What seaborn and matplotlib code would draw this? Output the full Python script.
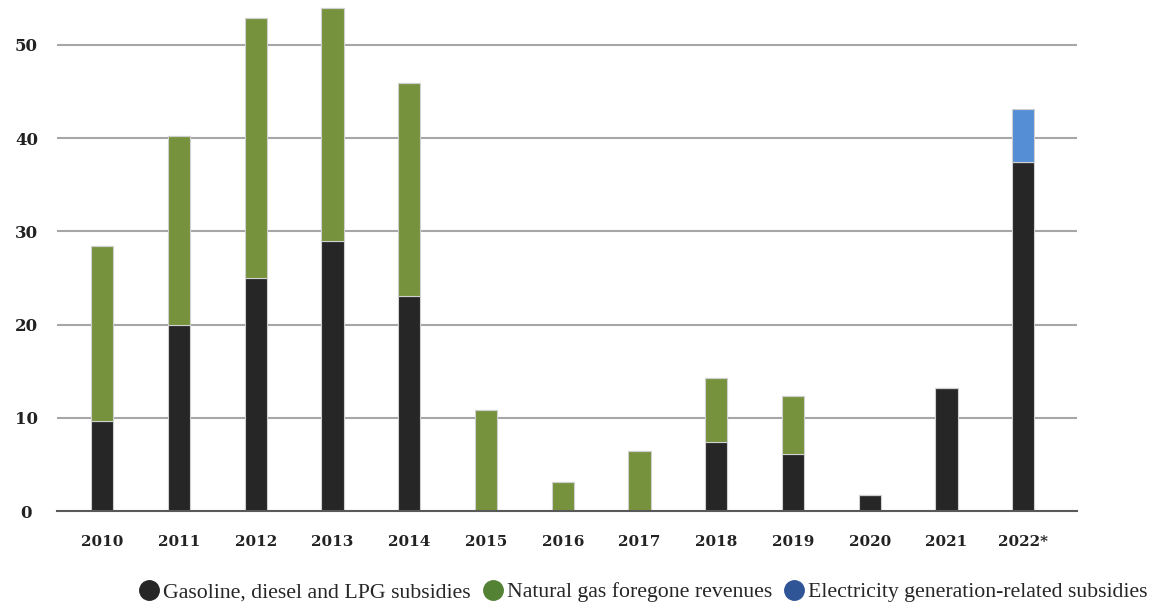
import matplotlib
matplotlib.use("Agg")
import matplotlib.pyplot as plt
from matplotlib.lines import Line2D
import seaborn as sns
import pandas as pd

years = ["2010", "2011", "2012", "2013", "2014", "2015", "2016",
         "2017", "2018", "2019", "2020", "2021", "2022*"]
gasoline = [9.7, 20.0, 25.0, 29.0, 23.1, 0, 0, 0, 7.4, 6.1, 1.7, 13.2, 37.4]
natgas = [18.7, 20.2, 27.9, 24.9, 22.8, 10.8, 3.1, 6.4, 6.9, 6.2, 0, 0, 0]
electricity = [0, 0, 0, 0, 0, 0, 0, 0, 0, 0, 0, 0, 5.7]
series_names = ["Gasoline, diesel and LPG subsidies",
                "Natural gas foregone revenues",
                "Electricity generation-related subsidies"]
yticks = [0, 10, 20, 30, 40, 50]

bar_colors = ["#262626", "#76923c", "#558ed5"]
legend_colors = ["#262626", "#548235", "#2f5597"]

sns.set_theme(style="white")
plt.rcParams["font.family"] = ["Liberation Serif", "DejaVu Serif"]

fig = plt.figure(figsize=(11.56, 6.04), dpi=100)
ax = fig.add_axes([57 / 1156, 93 / 604, (1077 - 57) / 1156, 511 / 604])

df = pd.DataFrame({"year": years, "gas": gasoline, "ng": natgas, "el": electricity})
bottom2 = [a + b for a, b in zip(gasoline, natgas)]

common = dict(width=0.29, edgecolor="#d0d0d0", linewidth=0.8, ax=ax, zorder=3)
sns.barplot(data=df, x="year", y="gas", color=bar_colors[0], saturation=1, **common)
sns.barplot(data=df, x="year", y="ng", color=bar_colors[1], saturation=1, bottom=gasoline, **common)
sns.barplot(data=df, x="year", y="el", color=bar_colors[2], saturation=1, bottom=bottom2, **common)

ax.set_xlim(-0.59, 12.70)
ax.set_ylim(0, 54.8)
ax.set_yticks(yticks)
ax.set_yticklabels([str(v) for v in yticks])
ax.set_xlabel("")
ax.set_ylabel("")
for v in yticks[1:]:
    ax.axhline(v, color="#a6a6a6", lw=1.5, zorder=1)
for s in ["top", "right", "left"]:
    ax.spines[s].set_visible(False)
ax.spines["bottom"].set_color("#595959")
ax.spines["bottom"].set_linewidth(1.5)
ax.spines["bottom"].set_zorder(4)
ax.tick_params(axis="y", length=0, pad=22)
ax.tick_params(axis="x", length=0, pad=17)
for lbl in ax.get_yticklabels():
    lbl.set_fontfamily("DejaVu Serif")
    lbl.set_fontsize(12)
    lbl.set_fontweight("bold")
    lbl.set_horizontalalignment("center")
    lbl.set_color("#222222")
for lbl in ax.get_xticklabels():
    lbl.set_fontfamily("DejaVu Serif")
    lbl.set_fontsize(11)
    lbl.set_fontweight("bold")
    lbl.set_color("#222222")
ax.grid(False)

handles = [Line2D([0], [0], marker="o", linestyle="", markersize=14,
                  markerfacecolor=c, markeredgecolor=c) for c in legend_colors]
fig.legend(handles, series_names, loc="lower center", bbox_to_anchor=(0.556, -0.03),
           ncol=3, frameon=False, fontsize=15.7, handletextpad=0.15,
           columnspacing=0.5, handlelength=1.0)

fig.savefig("out.png", dpi=100)
